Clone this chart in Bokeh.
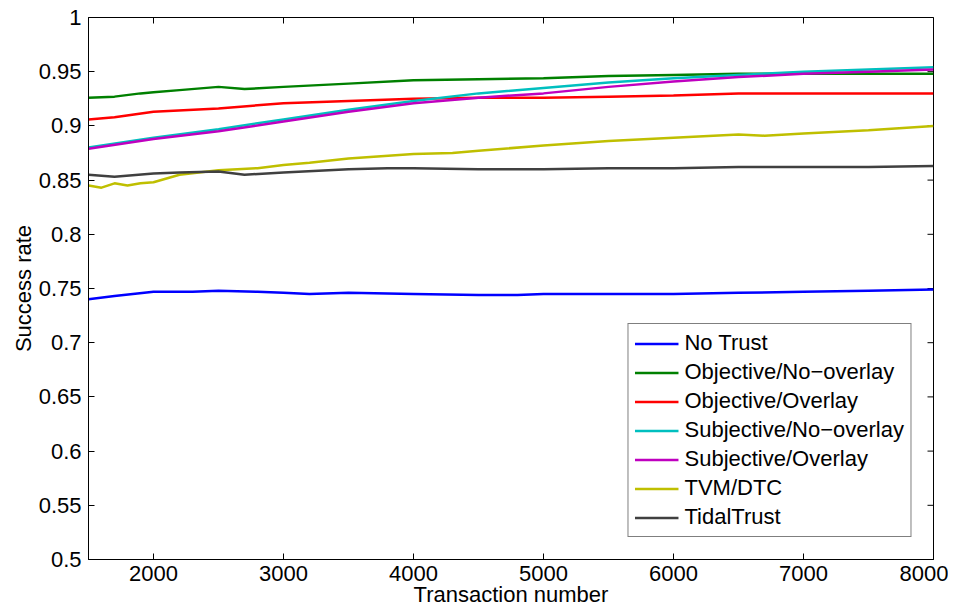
import math
from bokeh.plotting import figure
from bokeh.models import FixedTicker, Range1d, Legend, LegendItem
from bokeh.embed import file_html
from bokeh.resources import INLINE

# ---- data ----
x_no_trust = [1500, 1700, 2000, 2300, 2500, 2800, 3000, 3200, 3500, 4000, 4500, 4800, 5000, 5500, 6000, 6500, 7000, 7500, 8000]
y_no_trust = [0.740, 0.743, 0.747, 0.747, 0.748, 0.747, 0.746, 0.745, 0.746, 0.745, 0.744, 0.744, 0.745, 0.745, 0.745, 0.746, 0.747, 0.748, 0.749]

x_obj_nov = [1500, 1700, 1900, 2000, 2200, 2500, 2700, 3000, 3500, 4000, 4500, 5000, 5500, 6000, 6500, 7000, 7500, 8000]
y_obj_nov = [0.926, 0.927, 0.930, 0.931, 0.933, 0.936, 0.934, 0.936, 0.939, 0.942, 0.943, 0.944, 0.946, 0.947, 0.948, 0.948, 0.948, 0.948]

x_obj_ov = [1500, 1700, 2000, 2500, 3000, 3500, 4000, 4500, 5000, 5500, 6000, 6500, 7000, 7500, 8000]
y_obj_ov = [0.906, 0.908, 0.913, 0.916, 0.921, 0.923, 0.925, 0.926, 0.926, 0.927, 0.928, 0.930, 0.930, 0.930, 0.930]

x_subj_nov = [1500, 2000, 2500, 3000, 3500, 4000, 4500, 5000, 5500, 6000, 6500, 7000, 7500, 8000]
y_subj_nov = [0.880, 0.889, 0.897, 0.906, 0.915, 0.923, 0.930, 0.935, 0.940, 0.944, 0.947, 0.950, 0.952, 0.954]

x_subj_ov = [1500, 2000, 2500, 3000, 3500, 4000, 4500, 5000, 5500, 6000, 6500, 7000, 7500, 8000]
y_subj_ov = [0.879, 0.888, 0.895, 0.904, 0.913, 0.921, 0.926, 0.930, 0.936, 0.941, 0.945, 0.948, 0.950, 0.952]

x_tvm = [1500, 1600, 1700, 1800, 1900, 2000, 2200, 2500, 2800, 3000, 3200, 3500, 4000, 4300, 4500, 5000, 5500, 6000, 6500, 6700, 7000, 7500, 8000]
y_tvm = [0.845, 0.843, 0.847, 0.845, 0.847, 0.848, 0.855, 0.859, 0.861, 0.864, 0.866, 0.870, 0.874, 0.875, 0.877, 0.882, 0.886, 0.889, 0.892, 0.891, 0.893, 0.896, 0.900]

x_tidal = [1500, 1700, 2000, 2200, 2500, 2700, 3000, 3500, 3800, 4000, 4500, 5000, 5500, 6000, 6500, 7000, 7500, 8000]
y_tidal = [0.855, 0.853, 0.856, 0.857, 0.858, 0.855, 0.857, 0.860, 0.861, 0.861, 0.860, 0.860, 0.861, 0.861, 0.862, 0.862, 0.862, 0.863]

series_names = ["No Trust", "Objective/No\u2212overlay", "Objective/Overlay",
                "Subjective/No\u2212overlay", "Subjective/Overlay", "TVM/DTC", "TidalTrust"]
series_colors = ["#0000ff", "#008000", "#ff0000", "#00bfbf", "#bf00bf", "#bfbf00", "#404040"]

x_min, x_max = 1500, 8000
y_min, y_max = 0.5, 1.0
x_ticks = [2000, 3000, 4000, 5000, 6000, 7000, 8000]
y_ticks = [0.5, 0.55, 0.6, 0.65, 0.7, 0.75, 0.8, 0.85, 0.9, 0.95, 1.0]
y_tick_labels = ["0.5", "0.55", "0.6", "0.65", "0.7", "0.75", "0.8", "0.85", "0.9", "0.95", "1"]

FONT = "Liberation Sans"

p = figure(frame_width=845, frame_height=542, output_backend="svg", toolbar_location=None,
           x_range=Range1d(x_min, x_max), y_range=Range1d(y_min, y_max),
           min_border_left=88, min_border_top=17, min_border_right=15, min_border_bottom=10)
p.background_fill_color = "white"
p.border_fill_color = "white"
p.outline_line_color = "black"
p.outline_line_width = 1
p.xgrid.visible = False
p.ygrid.visible = False

for ax in (p.xaxis[0], p.yaxis[0]):
    ax.axis_line_color = "black"
    ax.major_tick_in = 6
    ax.major_tick_out = 0
    ax.minor_tick_in = 0
    ax.minor_tick_out = 0
    ax.major_tick_line_color = "black"
    ax.major_label_text_font = FONT
    ax.major_label_text_font_size = "22px"
    ax.major_label_text_color = "black"
    ax.axis_label_text_font = FONT
    ax.axis_label_text_font_size = "22px"
    ax.axis_label_text_font_style = "normal"
    ax.axis_label_text_color = "black"

p.xaxis.ticker = FixedTicker(ticks=x_ticks)
p.yaxis.ticker = FixedTicker(ticks=y_ticks)
p.yaxis.major_label_overrides = {t: l for t, l in zip(y_ticks, y_tick_labels)}
p.xaxis.axis_label = "Transaction number"
p.yaxis.axis_label = "Success rate"
p.xaxis.major_label_standoff = 6
p.yaxis.major_label_standoff = 7
p.xaxis.axis_label_standoff = -2
p.yaxis.axis_label_standoff = 0

# mirrored tick marks on the top and right frame edges (half of each dash is clipped by the frame)
p.scatter(x=x_ticks, y=[y_max] * len(x_ticks), marker="dash", size=12, angle=math.pi / 2,
          line_color="black", line_width=1)
p.scatter(x=[x_max] * len(y_ticks), y=y_ticks, marker="dash", size=12,
          line_color="black", line_width=1)

xs = [x_no_trust, x_obj_nov, x_obj_ov, x_subj_nov, x_subj_ov, x_tvm, x_tidal]
ys = [y_no_trust, y_obj_nov, y_obj_ov, y_subj_nov, y_subj_ov, y_tvm, y_tidal]
items = []
for name, x, y, c in zip(series_names, xs, ys, series_colors):
    r = p.line(x, y, line_color=c, line_width=2.5)
    items.append(LegendItem(label=name, renderers=[r]))

legend = Legend(items=items, location="bottom_right", margin=22)
legend.label_text_font = FONT
legend.label_text_font_size = "22px"
legend.label_text_color = "black"
legend.border_line_color = "black"
legend.border_line_width = 1
legend.background_fill_color = "white"
legend.background_fill_alpha = 1
legend.glyph_width = 44
legend.glyph_height = 25
legend.label_height = 25
legend.label_standoff = 6
legend.spacing = 3
legend.padding = 6
p.add_layout(legend, "center")

open("out.html", "w").write(file_html(p, INLINE))
